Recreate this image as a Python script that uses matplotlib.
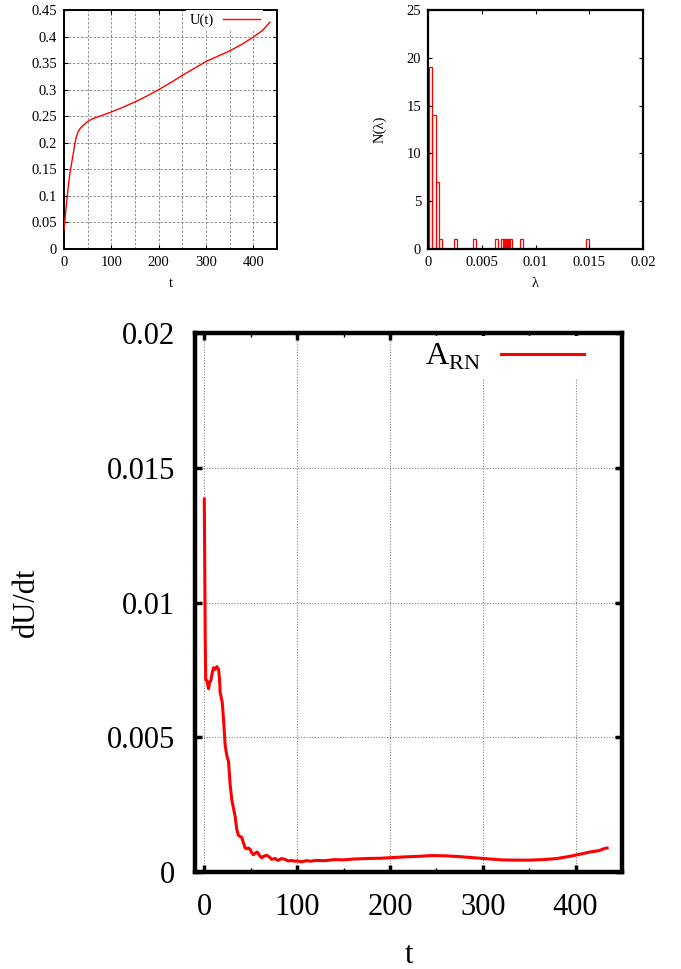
import matplotlib
matplotlib.use("Agg")
import matplotlib.pyplot as plt
from matplotlib.ticker import MultipleLocator, FuncFormatter

plt.rcParams['font.family'] = ['Liberation Serif', 'DejaVu Serif']
plt.rcParams['mathtext.fontset'] = 'custom'
plt.rcParams['mathtext.rm'] = 'Liberation Serif'

# U(t)
t_u = [0, 3, 6, 9, 12, 16, 20, 23, 26, 30, 35, 41, 50, 60, 75, 100, 125, 150,
       175, 200, 225, 250, 275, 300, 325, 350, 375, 400, 420, 435]
u_vals = [0.036, 0.065, 0.092, 0.117, 0.14, 0.161, 0.182, 0.199, 0.211, 0.221,
          0.228, 0.233, 0.24, 0.245, 0.25, 0.258, 0.267, 0.277, 0.288, 0.3,
          0.313, 0.327, 0.34, 0.353, 0.363, 0.373, 0.385, 0.399, 0.412, 0.427]

# N(lambda) histogram: box centres and counts
lam_centres = [0.00025, 0.00055, 0.00085, 0.00115, 0.00257, 0.00433, 0.00636,
               0.0069, 0.0071, 0.0073, 0.0075, 0.0077, 0.0087, 0.01482]
lam_counts = [19, 14, 7, 1, 1, 1, 1, 1, 1, 1, 1, 1, 1, 1]
lam_width = 0.0003

# dU/dt
t_d = [0, 1, 1.5, 2.9, 4.6, 5.7, 7.1, 8.6, 10, 11.8, 13.6, 15.4, 16.4, 17.1,
       19.3, 20.7, 22.5, 24.3, 26.1, 27.9, 29.6, 31.4, 33.2, 35, 36.8, 38.6,
       40.4, 42.1, 43.9, 45.7, 47.5, 49.3, 51.1, 52.9, 55.7, 57.1, 59.3, 61.8,
       64.3, 67.1, 70, 72.5, 76, 79.6, 83.2, 86.8, 90.4, 93.9, 97.5, 100, 105,
       110, 115, 120, 130, 140, 150, 160, 175, 190, 200, 215, 230, 245, 260,
       275, 290, 305, 320, 335, 350, 365, 380, 395, 405, 415, 425, 430, 434]
dudt = [0.01384, 0.0088, 0.00714, 0.0071, 0.0068, 0.00704, 0.0071, 0.0074,
        0.00758, 0.00752, 0.00762, 0.00752, 0.00716, 0.00667, 0.0063, 0.00568,
        0.0047, 0.00432, 0.0041, 0.00323, 0.00269, 0.00237, 0.00207, 0.00158,
        0.00136, 0.00132, 0.00128, 0.00109, 0.0009, 0.00086, 0.00089, 0.00084,
        0.00072, 0.00064, 0.00072, 0.00074, 0.00062, 0.00053, 0.00059, 0.00062,
        0.00056, 0.00047, 0.0005, 0.00043, 0.0005, 0.00047, 0.00041, 0.00043,
        0.0004, 0.00041, 0.00038, 0.00042, 0.0004, 0.00043, 0.00042, 0.00046,
        0.00045, 0.00048, 0.0005, 0.00051, 0.00053, 0.00056, 0.00058, 0.00061,
        0.0006, 0.00057, 0.00053, 0.00049, 0.00045, 0.00044, 0.00044, 0.00046,
        0.0005, 0.00059, 0.00066, 0.00074, 0.00079, 0.00086, 0.00089]

gfmt = FuncFormatter(lambda v, p: '%g' % round(v, 6))

W, H = 681, 969
fig = plt.figure(figsize=(W / 100, H / 100), dpi=100)


def box(l, r, t, b):
    return [l / W, 1 - b / H, (r - l) / W, (b - t) / H]


# top left
ax1 = fig.add_axes(box(64, 277, 10, 249))
ax1.plot(t_u, u_vals, color='red', lw=1.0, label='U(t)', zorder=6)
ax1.set_xlim(0, 450)
ax1.set_ylim(0, 0.45)
ax1.xaxis.set_major_locator(MultipleLocator(100))
ax1.xaxis.set_minor_locator(MultipleLocator(50))
ax1.yaxis.set_major_locator(MultipleLocator(0.05))
ax1.yaxis.set_major_formatter(gfmt)
ax1.grid(which='both', color='grey', ls=(0, (3, 2)), lw=0.6)
ax1.tick_params(which='both', direction='in', top=True, right=True,
                labelsize=10.5, length=3, width=0.8, pad=5)
ax1.tick_params(which='minor', length=0)
ax1.set_xlabel('t', fontsize=10.5, labelpad=6)
for s in ax1.spines.values():
    s.set_linewidth(1.4)
leg1 = ax1.legend(loc='upper right', bbox_to_anchor=(0.935, 1.0),
                  markerfirst=False, frameon=True, fontsize=10.5,
                  handlelength=2.5, handletextpad=0.65, borderpad=0.25,
                  borderaxespad=0, framealpha=1, edgecolor='none',
                  fancybox=False)
leg1.set_zorder(4)

# top right
ax2 = fig.add_axes(box(428, 643, 10, 249))
ax2.bar(lam_centres, lam_counts, width=lam_width, fill=False, edgecolor='red',
        lw=0.9)
ax2.set_xlim(0, 0.02)
ax2.set_ylim(0, 25)
ax2.xaxis.set_major_locator(MultipleLocator(0.005))
ax2.xaxis.set_major_formatter(gfmt)
ax2.yaxis.set_major_locator(MultipleLocator(5))
ax2.tick_params(direction='in', top=True, right=True, labelsize=10.5,
                length=3, width=0.8, pad=5)
ax2.set_xlabel('λ', fontsize=10.5, labelpad=6)
ax2.set_ylabel('N(λ)', fontsize=10.5, labelpad=14)
for s in ax2.spines.values():
    s.set_linewidth(1.6)

# bottom
ax3 = fig.add_axes(box(195, 622, 333, 872))
ax3.plot(t_d, dudt, color='red', lw=2.2, label=r'A$_\mathregular{RN}$',
         zorder=6)
ax3.set_xlim(-10, 450)
ax3.set_ylim(0, 0.02)
ax3.xaxis.set_major_locator(MultipleLocator(100))
ax3.xaxis.set_minor_locator(MultipleLocator(50))
ax3.yaxis.set_major_locator(MultipleLocator(0.005))
ax3.yaxis.set_major_formatter(gfmt)
ax3.grid(which='major', color='grey', ls=(0, (1, 1.5)), lw=0.8)
ax3.tick_params(which='both', direction='in', top=True, right=True,
                labelsize=22, length=5, width=2.5)
ax3.tick_params(axis='x', pad=15)
ax3.tick_params(axis='y', pad=14.5)
ax3.tick_params(which='minor', length=3, width=1)
ax3.set_xlabel('t', fontsize=22, labelpad=14)
ax3.set_ylabel('dU/dt', fontsize=22, labelpad=47)
for s in ax3.spines.values():
    s.set_linewidth(3.2)
leg3 = ax3.legend(loc='upper right', bbox_to_anchor=(0.925, 0.995),
                  markerfirst=False, frameon=True, fontsize=23,
                  handlelength=2.6, handletextpad=0.6, borderpad=0.2,
                  borderaxespad=0, framealpha=1, edgecolor='none',
                  fancybox=False)
leg3.set_zorder(4)

fig.savefig('out.png', dpi=100)
